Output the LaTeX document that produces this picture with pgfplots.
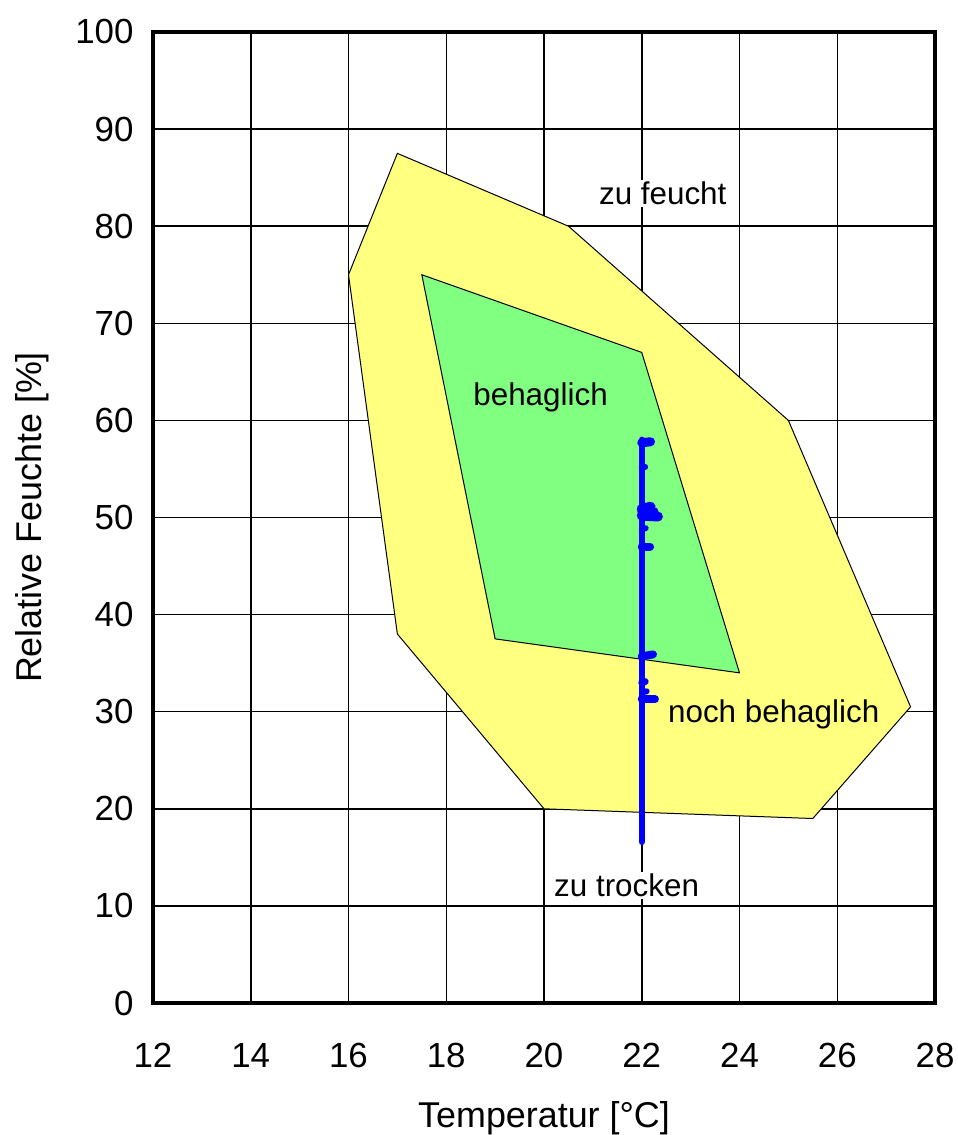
\documentclass[border=0pt]{standalone}
\usepackage{fontspec}
\setmainfont{Liberation Sans}
\usepackage{pgfplots}
\pgfplotsset{compat=1.18}
\definecolor{ylw}{RGB}{255,255,128}
\definecolor{grn}{RGB}{128,255,128}
\begin{document}
\begin{tikzpicture}[x=1bp,y=1bp]
\begin{axis}[
  scale only axis,
  width=782bp, height=971bp,
  xmin=12, xmax=28, ymin=0, ymax=100,
  xtick={12,14,...,28}, ytick={0,10,...,100},
  grid=major,
  major grid style={black, line width=1.5bp},
  axis line style={black, line width=4bp},
  major tick length=0pt,
  /pgf/number format/assume math mode=true,
  tick label style={font=\fontsize{35}{40}\selectfont},
  xticklabel style={anchor=north, text height=0.72em, text depth=0pt, yshift=-54bp},
  yticklabel style={xshift=-16bp},
  label style={font=\fontsize{36}{42}\selectfont},
  xlabel={Temperatur [°C]},
  ylabel={Relative Feuchte [\%]},
  xlabel style={yshift=-27bp},
  ylabel style={yshift=20bp},
  clip=false,
]
\coordinate (sw) at (rel axis cs:0,0);
\coordinate (ne) at (rel axis cs:1,1);
% noch behaglich (yellow)
\addplot[fill=ylw, draw=black, line width=1bp] coordinates {
 (16,75) (17,87.5) (20.5,80) (25,60) (27.5,30.5) (25.5,19) (20,20) (17,38) (16,75)} --cycle;
% behaglich (green)
\addplot[fill=grn, draw=black, line width=1bp] coordinates {
 (17.5,75) (22,67) (24,34) (19,37.5) (17.5,75)} --cycle;
% measurements
\addplot[blue, line width=6.5bp, line cap=round] coordinates {(22,16.6) (22,58)};
\addplot[blue, line width=9bp, line cap=round] coordinates {(22,57.7) (22.18,57.8)};
\addplot[blue, line width=6bp, line cap=round] coordinates {(22,55.2) (22.07,55.2)};
\addplot[blue, line width=10bp, line cap=round] coordinates {(22,50.9) (22.18,51.1)};
\addplot[blue, line width=10bp, line cap=round] coordinates {(22,50.2) (22.33,50.1)};
\addplot[blue, line width=9bp, line cap=round] coordinates {(22,50.6) (22.25,50.6)};
\addplot[blue, line width=6bp, line cap=round] coordinates {(22,48.8) (22.08,48.9)};
\addplot[blue, line width=8bp, line cap=round] coordinates {(22,47) (22.17,47)};
\addplot[blue, line width=8bp, line cap=round] coordinates {(22,35.7) (22.23,35.9)};
\addplot[blue, line width=7bp, line cap=round] coordinates {(22,33) (22.07,33.1)};
\addplot[blue, line width=8bp, line cap=round] coordinates {(22,31.3) (22.27,31.3)};
\addplot[blue, line width=6bp, line cap=round] coordinates {(22,32.0) (22.1,32.1)};
% labels
\node[fill=white, inner sep=2bp, font=\fontsize{31.5}{36}\selectfont] at (axis cs:22.43,83.4) {zu feucht};
\node[fill=grn, inner sep=2bp, font=\fontsize{31.5}{36}\selectfont] at (axis cs:19.93,62.4) {behaglich};
\node[fill=ylw, inner sep=2bp, font=\fontsize{31.5}{36}\selectfont] at (axis cs:24.7,29.7) {noch behaglich};
\node[fill=white, inner sep=2bp, font=\fontsize{31.5}{36}\selectfont] at (axis cs:21.69,12.15) {zu trocken};
\end{axis}
\pgfresetboundingbox
\path ([shift={(-153bp,-132bp)}]sw) rectangle ([shift={(23bp,32bp)}]ne);
\end{tikzpicture}
\end{document}
